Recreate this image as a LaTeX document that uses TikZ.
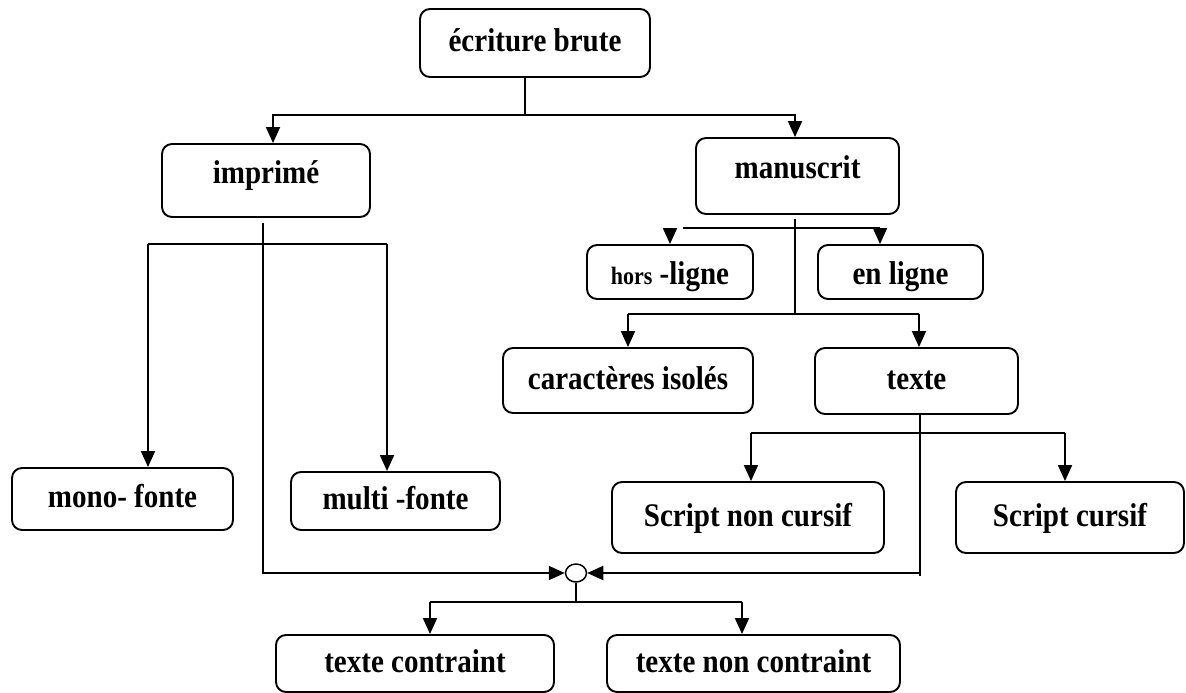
\documentclass[tikz,border=0pt]{standalone}
\usepackage{fontspec}
\setmainfont{Liberation Serif}[FakeStretch=0.88]
\usetikzlibrary{arrows.meta,shapes.geometric}
\begin{document}
\begin{tikzpicture}[x=1pt,y=-1pt,
  font=\fontsize{33}{38}\selectfont\bfseries,
  box/.style={draw,rounded corners=10pt,line width=1.9pt,inner sep=0pt,
              text height=20pt,text depth=3pt,align=center},
  hibox/.style={box,text height=8pt},
  lobox/.style={box,text height=27pt},
  wire/.style={line width=1.9pt},
  arr/.style={wire,-{Triangle[length=16pt,width=14pt]}},
]
\useasboundingbox (0,0) rectangle (1186,693);

% boxes
\node[box,minimum width=230pt,minimum height=68pt] (ecr) at (535,43) {écriture brute};
\node[hibox,minimum width=208pt,minimum height=73pt] (imp) at (266,180.5) {imprimé};
\node[hibox,minimum width=203pt,minimum height=76pt] (man) at (797.5,176) {manuscrit};
\node[lobox,minimum width=166pt,minimum height=54pt] (hors) at (670,272) {{\fontsize{25}{29}\selectfont hors} -ligne};
\node[lobox,minimum width=165pt,minimum height=54pt] (enl) at (900.5,272) {en ligne};
\node[box,minimum width=250pt,minimum height=65pt] (car) at (628,380.5) {caractères isolés};
\node[box,minimum width=203pt,minimum height=66pt] (txt) at (916.5,381) {texte};
\node[box,minimum width=272pt,minimum height=71pt] (snc) at (748,517.5) {Script non cursif};
\node[box,minimum width=228pt,minimum height=71pt] (sc) at (1070,517.5) {Script cursif};
\node[box,minimum width=221pt,minimum height=62pt] (mono) at (122.5,499) {mono- fonte};
\node[box,minimum width=209pt,minimum height=58pt] (multi) at (395.5,501) {multi -fonte};
\node[box,minimum width=278pt,minimum height=57pt] (tc) at (415,663.5) {texte contraint};
\node[box,minimum width=293pt,minimum height=57pt] (tnc) at (753.5,663.5) {texte non contraint};
\node[draw,ellipse,line width=1.5pt,minimum width=21pt,minimum height=18pt,inner sep=0pt] (join) at (576,573) {};

% junction points
\coordinate (e0) at (525,115);
\coordinate (eL) at (273,115);
\coordinate (eR) at (795,115);
\coordinate (iv) at (263,574);
\coordinate (iL) at (148,244);
\coordinate (iR) at (387,244);
\coordinate (mv) at (795,314);
\coordinate (mA) at (683,228);
\coordinate (mB) at (880,228);
\coordinate (hl) at (670,229);
\coordinate (mL) at (628,314);
\coordinate (mR) at (919,314);
\coordinate (tv) at (920,576);
\coordinate (tL) at (751,433);
\coordinate (tR) at (1065,433);
\coordinate (jb) at (576,602);
\coordinate (jL) at (430,602);
\coordinate (jR) at (742,602);

% écriture brute -> imprimé / manuscrit
\draw[wire] (ecr.south -| e0) -- (e0);
\draw[arr] (e0) -- (eL) -- (eL |- imp.north);
\draw[arr] (e0) -- (eR) -- (eR |- man.north);

% imprimé -> mono / multi fonte
\draw[wire] ([yshift=-5pt]imp.south -| iv) -- (iv);
\draw[wire] (iL) -- (iR);
\draw[arr] (iL) -- (iL |- mono.north);
\draw[arr] (iR) -- (iR |- multi.north);

% manuscrit -> hors-ligne / en ligne, caractères isolés / texte
\draw[wire] ([yshift=-4pt]man.south -| mv) -- (mv);
\draw[wire] (mA) -- (mB);
\draw[arr] (mB) -- (mB |- enl.north);
\draw[arr] (hl) -- (hl |- hors.north);
\draw[wire] (mL) -- (mR);
\draw[arr] (mL) -- (mL |- car.north);
\draw[arr] (mR) -- (mR |- txt.north);

% texte -> script non cursif / cursif
\draw[wire] (txt.south -| tv) -- (tv);
\draw[wire] (tL) -- (tR);
\draw[arr] (tL) -- (tL |- snc.north);
\draw[arr] (tR) -- (tR |- sc.north);

% both branches meet at the junction
\draw[arr] (iv |- join.west) -- (join.west);
\draw[arr] (tv |- join.east) -- (join.east);
\draw[wire] (join.south) -- (jb);
\draw[wire] (jL) -- (jR);
\draw[arr] (jL) -- (jL |- tc.north);
\draw[arr] (jR) -- (jR |- tnc.north);
\end{tikzpicture}
\end{document}
